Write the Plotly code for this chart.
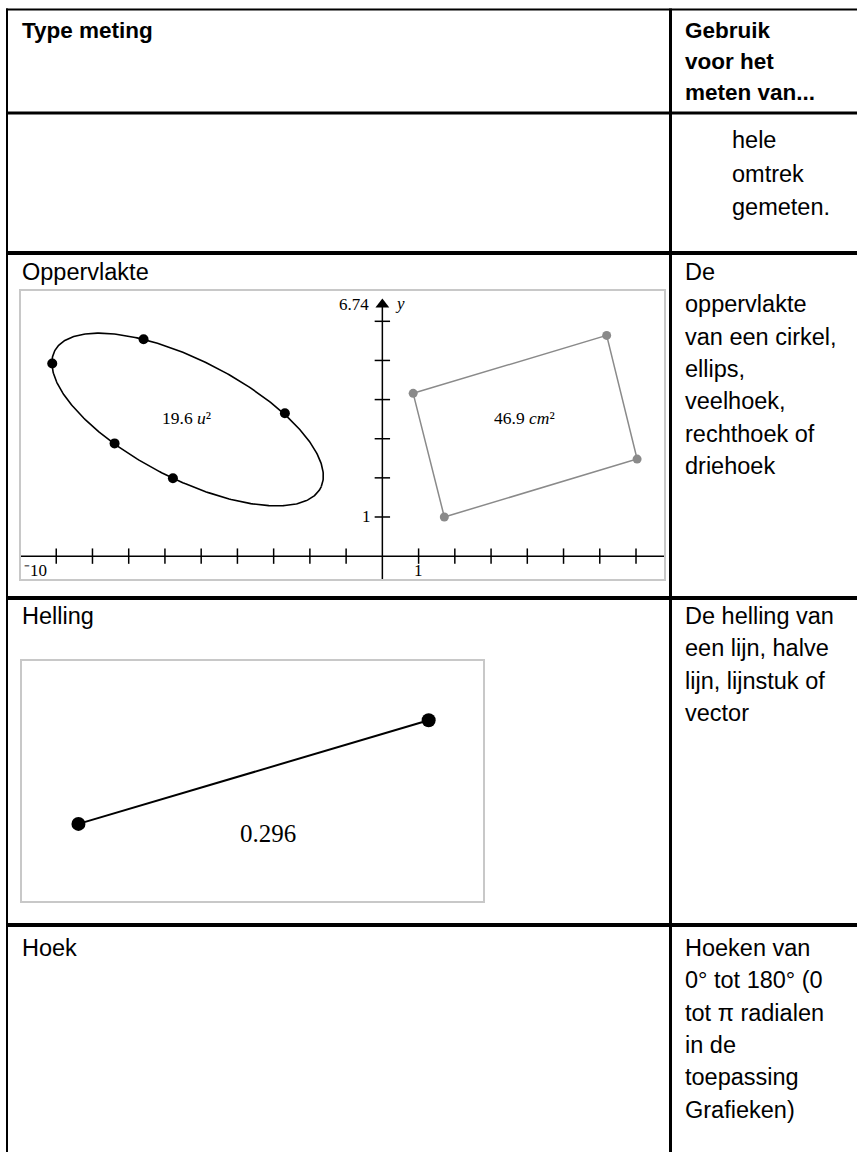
import numpy as np
import plotly.graph_objects as go

W, H = 857, 1152

# ---------------- table text ----------------
header_left = "Type meting"
header_right = ["Gebruik", "voor het", "meten van..."]
row2_right = ["hele", "omtrek", "gemeten."]
row3_left = "Oppervlakte"
row3_right = ["De", "oppervlakte", "van een cirkel,", "ellips,", "veelhoek,", "rechthoek of", "driehoek"]
row4_left = "Helling"
row4_right = ["De helling van", "een lijn, halve", "lijn, lijnstuk of", "vector"]
row5_left = "Hoek"
row5_right = ["Hoeken van", "0° tot 180° (0", "tot π radialen", "in de", "toepassing", "Grafieken)"]

# ---------------- graph 1 (area) ----------------
g1_xmin, g1_xmax = -10, 7.80
g1_ymin, g1_ymax = -0.61, 6.80
g1_top_label = "6.74"
g1_xticks = [-9, -8, -7, -6, -5, -4, -3, -2, -1, 1, 2, 3, 4, 5, 6, 7]
g1_yticks = [1, 2, 3, 4, 5, 6]
ell_center = (-5.374, 3.491)
ell_axes = (4.067, 1.535)
ell_angle_deg = -24.9
ell_pts_x = [-9.11, -6.59, -2.69, -7.39, -5.78]
ell_pts_y = [4.92, 5.54, 3.65, 2.88, 1.99]
ell_label = "19.6 <i>u</i>²"
rect_x = [0.85, 6.19, 7.03, 1.71]
rect_y = [4.16, 5.64, 2.48, 1.00]
rect_label = "46.9 <i>cm</i>²"

# ---------------- graph 2 (slope) ----------------
g2_xmin, g2_xmax = -1.64, 11.58
g2_ymin, g2_ymax = -2.23, 4.68
seg_x = [0, 10]
seg_y = [0, 2.96]
slope_label = "0.296"

fig = go.Figure()

fig.add_trace(go.Scatter(x=[0], y=[0], mode="markers", marker=dict(opacity=0),
                         hoverinfo="skip", showlegend=False, xaxis="x", yaxis="y"))

# ellipse curve from its centre, semi-axes and tilt
t = np.linspace(0, 2 * np.pi, 400)
th = np.radians(ell_angle_deg)
a, b = ell_axes
ex = ell_center[0] + a * np.cos(t) * np.cos(th) - b * np.sin(t) * np.sin(th)
ey = ell_center[1] + a * np.cos(t) * np.sin(th) + b * np.sin(t) * np.cos(th)

def add(tr):
    tr.update(hoverinfo="skip", showlegend=False)
    fig.add_trace(tr)

# graph 1 axes
add(go.Scatter(x=[g1_xmin, g1_xmax], y=[0, 0], mode="lines",
               line=dict(color="black", width=1.5), xaxis="x2", yaxis="y2"))
add(go.Scatter(x=[0, 0], y=[g1_ymin, 6.45], mode="lines",
               line=dict(color="black", width=1.5), xaxis="x2", yaxis="y2"))
add(go.Scatter(x=g1_xticks, y=[0] * len(g1_xticks), mode="markers",
               marker=dict(symbol="line-ns", size=11, line=dict(color="black", width=1.5)),
               xaxis="x2", yaxis="y2"))
add(go.Scatter(x=[0] * len(g1_yticks), y=g1_yticks, mode="markers",
               marker=dict(symbol="line-ew", size=11, line=dict(color="black", width=1.5)),
               xaxis="x2", yaxis="y2"))
add(go.Scatter(x=[0], y=[6.43], mode="markers",
               marker=dict(symbol="triangle-up", size=12, color="black"),
               xaxis="x2", yaxis="y2"))

add(go.Scatter(x=ex, y=ey, mode="lines", line=dict(color="black", width=1.6),
               xaxis="x2", yaxis="y2"))
add(go.Scatter(x=ell_pts_x, y=ell_pts_y, mode="markers",
               marker=dict(color="black", size=10), xaxis="x2", yaxis="y2"))
add(go.Scatter(x=rect_x + rect_x[:1], y=rect_y + rect_y[:1], mode="lines",
               line=dict(color="#8a8a8a", width=1.5), xaxis="x2", yaxis="y2"))
add(go.Scatter(x=rect_x, y=rect_y, mode="markers",
               marker=dict(color="#8a8a8a", size=9), xaxis="x2", yaxis="y2"))

# graph 2
add(go.Scatter(x=seg_x, y=seg_y, mode="lines+markers",
               line=dict(color="black", width=2),
               marker=dict(color="black", size=14), xaxis="x3", yaxis="y3"))

# ---------------- shapes: table lines ----------------
shapes = []
def hline(y, x0, x1, w):
    shapes.append(dict(type="line", xref="x", yref="y", x0=x0, x1=x1, y0=y, y1=y,
                       line=dict(color="black", width=w)))
def vline(x, y0, y1, w):
    shapes.append(dict(type="line", xref="x", yref="y", x0=x, x1=x, y0=y0, y1=y1,
                       line=dict(color="black", width=w)))

vline(7, 8.5, H, 2)
vline(670.5, 8.5, H, 3)
hline(9.5, 6, W, 2)
hline(113, 6, W, 3)
hline(253, 6, W, 4)
hline(598, 6, W, 4)
hline(925, 6, W, 4)

box_col = "#c8c8c8"
shapes.append(dict(type="rect", xref="x", yref="y", x0=20, x1=665, y0=290, y1=580,
                   line=dict(color=box_col, width=2)))
shapes.append(dict(type="rect", xref="x", yref="y", x0=21, x1=484, y0=660, y1=902,
                   line=dict(color=box_col, width=2)))

# ---------------- annotations ----------------
ann = []
SANS = "Liberation Sans, Arial, sans-serif"
SERIF = "Liberation Serif, Times New Roman, serif"
FS = 23.5

def txt(x, y, s, size=FS, family=SANS, xanchor="left", xref="x", yref="y"):
    ann.append(dict(x=x, y=y, text=s, xref=xref, yref=yref, xanchor=xanchor, yanchor="middle",
                    showarrow=False, font=dict(family=family, size=size, color="black")))

txt(20, 30, "<b>" + header_left + "</b>", size=22.5)
for i, s in enumerate(header_right):
    txt(683, 30 + i * 31, "<b>" + s + "</b>", size=22.5)
for i, s in enumerate(row2_right):
    txt(730, 140 + i * 33.5, s)

txt(20, 272, row3_left)
for i, s in enumerate(row3_right):
    txt(683, 272 + i * 32.3, s)

txt(20, 616, row4_left)
for i, s in enumerate(row4_right):
    txt(683, 616 + i * 32.3, s)

txt(20, 948, row5_left)
for i, s in enumerate(row5_right):
    txt(683, 948 + i * 32.3, s)

# graph 1 labels
txt(-0.3, 6.42, g1_top_label, size=17, family=SERIF, xanchor="right", xref="x2", yref="y2")
txt(0.3, 6.45, "<i>y</i>", size=17, family=SERIF, xref="x2", yref="y2")
txt(-0.25, 1.0, "1", size=17, family=SERIF, xanchor="right", xref="x2", yref="y2")
txt(-9.95, -0.36, "⁻10", size=17, family=SERIF, xref="x2", yref="y2")
txt(1.0, -0.36, "1", size=17, family=SERIF, xanchor="center", xref="x2", yref="y2")
txt(-5.40, 3.54, ell_label, size=17.5, family=SERIF, xanchor="center", xref="x2", yref="y2")
txt(3.92, 3.54, rect_label, size=17.5, family=SERIF, xanchor="center", xref="x2", yref="y2")

# graph 2 label
txt(5.4, -0.26, slope_label, size=25, family=SERIF, xanchor="center", xref="x3", yref="y3")

fig.update_layout(
    width=W, height=H, margin=dict(l=0, r=0, t=0, b=0),
    paper_bgcolor="white", plot_bgcolor="rgba(0,0,0,0)",
    showlegend=False, hovermode=False, dragmode=False,
    shapes=shapes, annotations=ann,
    xaxis=dict(domain=[0, 1], range=[0, W], visible=False, fixedrange=True),
    yaxis=dict(domain=[0, 1], range=[H, 0], visible=False, fixedrange=True),
    xaxis2=dict(domain=[20 / W, 665 / W], range=[g1_xmin, g1_xmax], visible=False, anchor="y2", fixedrange=True),
    yaxis2=dict(domain=[1 - 580 / H, 1 - 290 / H], range=[g1_ymin, g1_ymax], visible=False, anchor="x2", fixedrange=True),
    xaxis3=dict(domain=[21 / W, 484 / W], range=[g2_xmin, g2_xmax], visible=False, anchor="y3", fixedrange=True),
    yaxis3=dict(domain=[1 - 902 / H, 1 - 660 / H], range=[g2_ymin, g2_ymax], visible=False, anchor="x3", fixedrange=True),
)

fig.write_html("out.html",
               config={"displayModeBar": False, "staticPlot": True},
               post_script="document.body.style.margin='0';document.body.style.padding='0';"
                           "document.documentElement.style.overflow='hidden';")
